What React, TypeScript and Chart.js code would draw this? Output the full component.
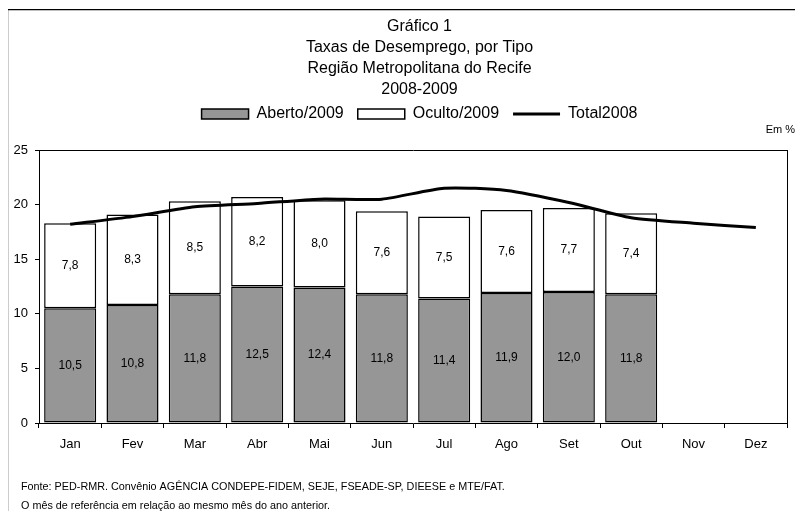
import { useEffect, useRef } from 'react';
import { Chart, registerables } from 'chart.js';

Chart.register(...registerables);

const months = ['Jan', 'Fev', 'Mar', 'Abr', 'Mai', 'Jun', 'Jul', 'Ago', 'Set', 'Out', 'Nov', 'Dez'];
const aberto2009 = [10.5, 10.8, 11.8, 12.5, 12.4, 11.8, 11.4, 11.9, 12.0, 11.8];
const oculto2009 = [7.8, 8.3, 8.5, 8.2, 8.0, 7.6, 7.5, 7.6, 7.7, 7.4];
const total2008 = [18.2, 18.9, 19.8, 20.1, 20.5, 20.5, 21.5, 21.3, 20.2, 18.8, 18.3, 17.9];
const seriesNames = ['Aberto/2009', 'Oculto/2009', 'Total2008'];
const titleLines = ['Gráfico 1', 'Taxas de Desemprego, por Tipo', 'Região Metropolitana do Recife', '2008-2009'];
const yMin = 0;
const yMax = 25;
const yStep = 5;
const unitLabel = 'Em %';
const footnotes = [
  'Fonte: PED-RMR. Convênio AGÊNCIA CONDEPE-FIDEM, SEJE, FSEADE-SP, DIEESE e MTE/FAT.',
  'O mês de referência em relação ao mesmo mês do ano anterior.',
];

const FONT = "'Liberation Sans', Arial, sans-serif";

const extrasPlugin = {
  id: 'extras',
  afterDatasetsDraw(chart: any) {
    const ctx = chart.ctx;
    ctx.save();
    ctx.font = `12px ${FONT}`;
    ctx.fillStyle = '#000';
    ctx.textAlign = 'center';
    ctx.textBaseline = 'middle';
    chart.data.datasets.forEach((ds: any, di: number) => {
      if (ds.type === 'line') return;
      const meta = chart.getDatasetMeta(di);
      meta.data.forEach((el: any, i: number) => {
        const v = ds.data[i];
        if (v == null) return;
        const cy = (el.y + el.base) / 2;
        ctx.fillText(v.toFixed(1).replace('.', ','), el.x, cy);
      });
    });
    ctx.restore();
  },
  afterDraw(chart: any) {
    const ctx = chart.ctx;
    ctx.save();
    // outer frame (left and top visible)
    ctx.strokeStyle = '#000';
    ctx.lineWidth = 1.2;
    ctx.beginPath();
    ctx.moveTo(0.6, chart.height);
    ctx.lineTo(0.6, 1.6);
    ctx.lineTo(chart.width, 1.6);
    ctx.stroke();
    // unit label
    ctx.fillStyle = '#000';
    ctx.font = `11px ${FONT}`;
    ctx.textAlign = 'right';
    ctx.textBaseline = 'middle';
    ctx.fillText(unitLabel, 788, 122);
    // footnotes
    ctx.font = `10.8px ${FONT}`;
    ctx.textAlign = 'left';
    ctx.fillText(footnotes[0], 14, 479);
    ctx.fillText(footnotes[1], 14, 498);
    ctx.restore();
  },
};

export default function App() {
  const ref = useRef<HTMLCanvasElement | null>(null);

  useEffect(() => {
    if (!ref.current) return;
    Chart.defaults.font.family = FONT;
    Chart.defaults.color = '#000';
    const chart = new Chart(ref.current, {
      type: 'bar',
      data: {
        labels: months,
        datasets: [
          {
            type: 'bar',
            label: seriesNames[0],
            data: aberto2009,
            backgroundColor: '#969696',
            borderColor: '#000',
            borderWidth: 1.5,
            borderSkipped: false,
            stack: 'bars',
            order: 1,
            barPercentage: 0.835,
            categoryPercentage: 1,
          },
          {
            type: 'bar',
            label: seriesNames[1],
            data: oculto2009,
            backgroundColor: '#ffffff',
            borderColor: '#000',
            borderWidth: 1.5,
            borderSkipped: false,
            stack: 'bars',
            order: 2,
            barPercentage: 0.835,
            categoryPercentage: 1,
          },
          {
            type: 'line',
            label: seriesNames[2],
            data: total2008,
            borderColor: '#000',
            backgroundColor: '#000',
            borderWidth: 3,
            pointRadius: 0,
            pointBorderWidth: 3,
            tension: 0.22,
            stack: 'line',
            order: 0,
          },
        ] as any,
      },
      options: {
        responsive: false,
        animation: false,
        layout: { padding: { left: 0, right: 0, top: 0, bottom: 49.4 } },
        plugins: {
          title: {
            display: true,
            text: titleLines,
            color: '#000',
            font: { size: 16, weight: 'normal', lineHeight: 1.3125 },
            padding: { top: 8.5, bottom: -8.5 },
          },
          legend: {
            display: true,
            position: 'top',
            labels: {
              color: '#000',
              font: { size: 16 },
              usePointStyle: true,
              pointStyleWidth: 47,
              boxHeight: 10,
              padding: 14,
              sort: (a: any, b: any) => a.datasetIndex - b.datasetIndex,
              generateLabels: (c: any) => {
                const items = (Chart.defaults.plugins.legend.labels as any).generateLabels(c);
                return items.map((it: any) => {
                  const ds = c.data.datasets[it.datasetIndex];
                  if (ds.type === 'line') {
                    return { ...it, pointStyle: 'line', lineWidth: 3, strokeStyle: '#000' };
                  }
                  return { ...it, pointStyle: 'rect', lineWidth: 1.5, strokeStyle: '#000' };
                });
              },
            },
          },
          tooltip: { enabled: false },
        },
        scales: {
          x: {
            stacked: true,
            offset: true,
            grid: { offset: true, drawOnChartArea: false, drawTicks: true, tickLength: 5, color: '#000' },
            border: { display: true, color: '#000', width: 1 },
            ticks: { color: '#000', font: { size: 13 }, padding: 9, maxRotation: 0 },
          },
          y: {
            stacked: true,
            min: yMin,
            max: yMax,
            grid: { drawOnChartArea: false, drawTicks: true, tickLength: 4, color: '#000' },
            border: { display: true, color: '#000', width: 1 },
            ticks: { stepSize: yStep, color: '#000', font: { size: 13 }, padding: 7 },
            afterFit: (s: any) => {
              s.width = 32;
            },
          },
          xTop: {
            type: 'category',
            position: 'top',
            grid: { display: false },
            ticks: { display: false },
            border: { display: true, color: '#000', width: 1 },
            afterFit: (s: any) => {
              s.height = 18;
            },
          },
          yRight: {
            type: 'linear',
            position: 'right',
            grid: { display: false },
            ticks: { display: false },
            border: { display: true, color: '#000', width: 1 },
            afterFit: (s: any) => {
              s.width = 45;
            },
          },
        } as any,
      },
      plugins: [extrasPlugin],
    } as any);
    return () => chart.destroy();
  }, []);

  return (
    <div style={{ width: 794, height: 503, overflow: 'hidden', marginLeft: -1 }}>
      <canvas ref={ref} width={825} height={503} style={{ display: 'block' }} />
    </div>
  );
}
